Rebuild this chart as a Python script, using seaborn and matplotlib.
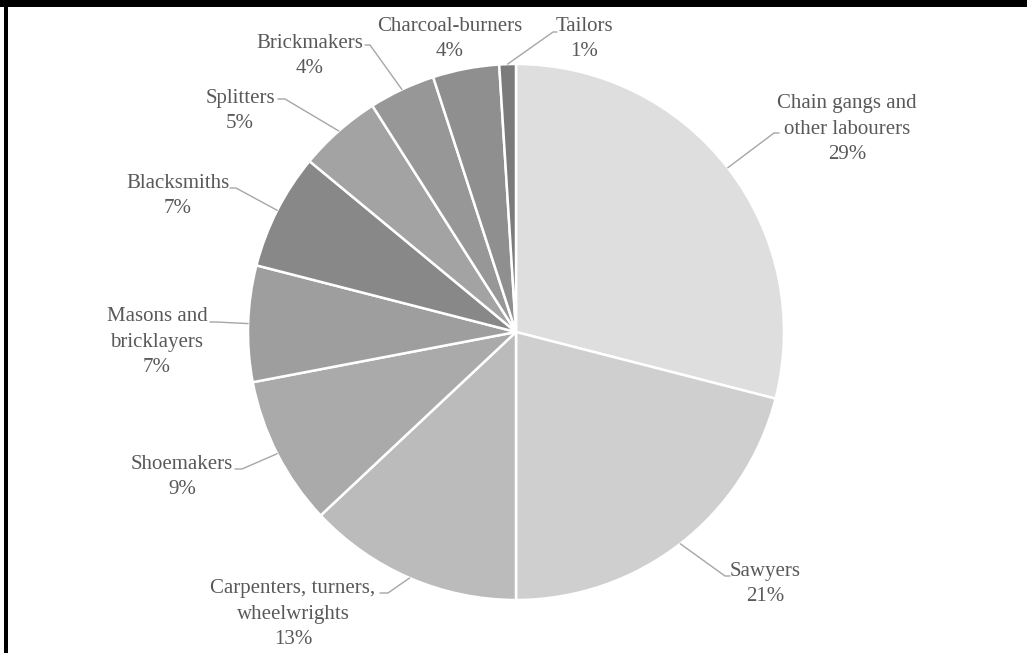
import numpy as np
import matplotlib
matplotlib.use("Agg")
import matplotlib.pyplot as plt
import seaborn as sns
from matplotlib.patches import Rectangle

# data
categories = ["Chain gangs and\nother labourers", "Sawyers", "Carpenters, turners,\nwheelwrights",
              "Shoemakers", "Masons and\nbricklayers", "Blacksmiths", "Splitters",
              "Brickmakers", "Charcoal-burners", "Tailors"]
shares = [29, 21, 13, 9, 7, 7, 5, 4, 4, 1]
colours = ["#dedede", "#cfcfcf", "#bbbbbb", "#aaaaaa", "#9e9e9e", "#888888",
           "#a3a3a3", "#979797", "#8f8f8f", "#7b7b7b"]

# layout (pixels, origin top-left): label centres and leader elbows
label_pos = [(847, 129), (765, 584), (293, 614), (182, 477), (157, 342),
             (178, 196), (240, 111), (310, 56), (450, 39), (584, 39)]
elbow_pos = [((774, 133), (779, 133)), ((725, 576), (730, 576)), ((388, 593), (380, 593)),
             ((242, 469), (235, 469)), ((216, 322), (210, 322)), ((236, 188), (230, 188)),
             ((285, 99), (278, 99)), ((370, 45), (365, 45)), None, ((553, 32), (557, 32))]
centre = (516, 332)
radius = 268

sns.set_theme(style="white")
plt.rcParams['font.family'] = ['Liberation Serif', 'DejaVu Serif']

fig = plt.figure(figsize=(10.27, 6.53), dpi=100)
ax = fig.add_axes([0, 0, 1, 1])

# y axis runs downward, so counterclock=True draws clockwise on screen
wedges, _ = ax.pie(shares, colors=colours, startangle=-90, counterclock=True,
                   center=centre, radius=radius,
                   wedgeprops=dict(edgecolor="white", linewidth=1.8))
ax.set_xlim(0, 1027)
ax.set_ylim(653, 0)
ax.set_aspect("auto")
ax.axis("off")

for w, cat, s, pos, elb in zip(wedges, categories, shares, label_pos, elbow_pos):
    ax.text(pos[0], pos[1], f"{cat}\n{s}%", ha="center", va="center",
            multialignment="center", fontsize=15, color="#595959", linespacing=1.48)
    if elb is None:
        continue
    mid = np.deg2rad((w.theta1 + w.theta2) / 2)
    rx = centre[0] + radius * np.cos(mid)
    ry = centre[1] + radius * np.sin(mid)
    ax.plot([rx, elb[0][0], elb[1][0]], [ry, elb[0][1], elb[1][1]],
            color="#a6a6a6", lw=1)

# partial black frame along top and left edges
fig.add_artist(Rectangle((0, 1 - 6.5 / 653), 1, 6.5 / 653, transform=fig.transFigure,
                         color="black", lw=0))
fig.add_artist(Rectangle((4 / 1027, 0), 4 / 1027, 1, transform=fig.transFigure,
                         color="black", lw=0))

fig.savefig("out.png", dpi=100)
